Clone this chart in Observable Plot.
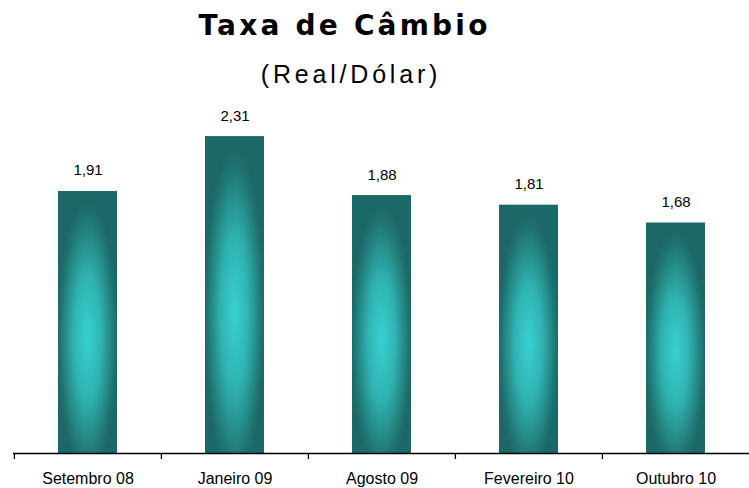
<!DOCTYPE html>
<html><head><meta charset="utf-8">
<script src="https://cdn.jsdelivr.net/npm/d3@7"></script>
<script src="https://cdn.jsdelivr.net/npm/@observablehq/plot@0.6"></script>
<style>
body{margin:0;background:#fff;}
#wrap{position:relative;width:749px;height:488px;overflow:hidden;background:#fff;}
.title{position:absolute;left:0;top:12px;width:689px;text-align:center;font:bold 28px/28px "DejaVu Sans";letter-spacing:3.2px;color:#000;white-space:nowrap;}
.subtitle{position:absolute;left:0;top:62px;width:702px;text-align:center;font:normal 25px/25px "Liberation Sans";letter-spacing:3.8px;color:#000;white-space:nowrap;}
#chart{position:absolute;left:0;top:100px;}
</style></head>
<body>
<div id="wrap">
  <div class="title">Taxa de Câmbio</div>
  <div class="subtitle">(Real/Dólar)</div>
  <div id="chart"></div>
</div>
<script>
const categories = ["Setembro 08", "Janeiro 09", "Agosto 09", "Fevereiro 10", "Outubro 10"];
const values = [1.91, 2.31, 1.88, 1.81, 1.68];
const valueLabels = ["1,91", "2,31", "1,88", "1,81", "1,68"];

const data = categories.map((c, i) => ({cat: c, value: values[i], label: valueLabels[i]}));

const W = 749, H = 388, ML = 13, MR = 0;
const step = (W - ML - MR) / categories.length;

function gradientDefs() {
  const g = d3.create("svg:g");
  const grad = g.append("defs").append("radialGradient")
    .attr("id", "barGrad").attr("cx", 0.5).attr("cy", 0.56).attr("r", 0.52);
  [[0, "#38d1d0"], [0.45, "#2fb3b2"], [0.72, "#258c88"], [0.9, "#1e7270"], [1, "#1c6868"]]
    .forEach(([o, c]) => grad.append("stop").attr("offset", o).attr("stop-color", c));
  return g.node();
}

const chart = Plot.plot({
  width: W, height: H,
  marginLeft: ML, marginRight: MR, marginTop: 10, marginBottom: 35,
  style: {fontFamily: "Liberation Sans", background: "transparent", overflow: "visible"},
  x: {domain: categories, paddingInner: 0.6, paddingOuter: 0.3, axis: null},
  y: {domain: [0, 2.5], axis: null},
  marks: [
    gradientDefs,
    Plot.barY(data, {x: "cat", y: "value", fill: "url(#barGrad)"}),
    Plot.ruleY([0], {stroke: "#000", strokeWidth: 1.3}),
    Plot.ruleX(categories, {x: d => d, y1: 0, y2: 0, insetBottom: -6, dx: -step / 2, stroke: "#000", strokeWidth: 1.3}),
    Plot.axisX({tickSize: 0, tickPadding: 19, fontSize: 16, label: null, fill: "#000"}),
    Plot.text(data, {x: "cat", y: "value", text: "label", dy: -16, lineAnchor: "bottom", fontSize: 15, fill: "#000"})
  ]
});
document.getElementById("chart").appendChild(chart);
</script>
</body></html>
